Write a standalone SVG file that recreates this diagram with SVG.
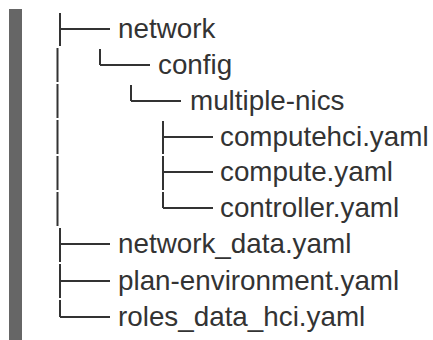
<svg xmlns="http://www.w3.org/2000/svg" width="433" height="340" viewBox="0 0 433 340">
<style>
.t{font-family:"Liberation Sans",Arial,Helvetica,sans-serif;font-size:27.8px;fill:#333}
.c line{stroke:#333;stroke-width:2;fill:none}
</style>
<rect x="0" y="0" width="433" height="340" fill="#fff"/>
<rect x="9" y="9" width="13" height="331" fill="#666"/>
<g class="c" id="connectors">
<line x1="60" y1="13" x2="60" y2="46"/><line x1="60" y1="29" x2="110" y2="29"/>
<line x1="57.5" y1="48" x2="57.5" y2="82"/><line x1="57.5" y1="84" x2="57.5" y2="118"/><line x1="57.5" y1="120" x2="57.5" y2="154"/><line x1="57.5" y1="156" x2="57.5" y2="190"/><line x1="57.5" y1="192" x2="57.5" y2="226"/>
<line x1="100" y1="49" x2="100" y2="65"/><line x1="100" y1="65" x2="150" y2="65"/>
<line x1="131" y1="85" x2="131" y2="101"/><line x1="131" y1="101" x2="181" y2="101"/>
<line x1="163" y1="121" x2="163" y2="154"/><line x1="163" y1="137" x2="213" y2="137"/>
<line x1="163" y1="156" x2="163" y2="190"/><line x1="163" y1="172" x2="213" y2="172"/>
<line x1="163" y1="192" x2="163" y2="208"/><line x1="163" y1="208" x2="213" y2="208"/>
<line x1="60" y1="228" x2="60" y2="262"/><line x1="60" y1="244" x2="110" y2="244"/>
<line x1="60" y1="264" x2="60" y2="298"/><line x1="60" y1="281" x2="110" y2="281"/>
<line x1="60" y1="300" x2="60" y2="317"/><line x1="60" y1="317" x2="110" y2="317"/>
</g>
<g id="n-network"><text class="t" x="118" y="38">network</text></g>
<g id="n-config"><text class="t" x="158" y="74">config</text></g>
<g id="n-multiple-nics"><text class="t" x="190" y="110">multiple-nics</text></g>
<g id="n-computehci"><text class="t" x="220" y="146">computehci.yaml</text></g>
<g id="n-compute"><text class="t" x="220" y="181">compute.yaml</text></g>
<g id="n-controller"><text class="t" x="220" y="217">controller.yaml</text></g>
<g id="n-network_data"><text class="t" x="118" y="253">network_data.yaml</text></g>
<g id="n-plan-environment"><text class="t" x="118" y="290">plan-environment.yaml</text></g>
<g id="n-roles_data_hci"><text class="t" x="118" y="326">roles_data_hci.yaml</text></g>
</svg>
